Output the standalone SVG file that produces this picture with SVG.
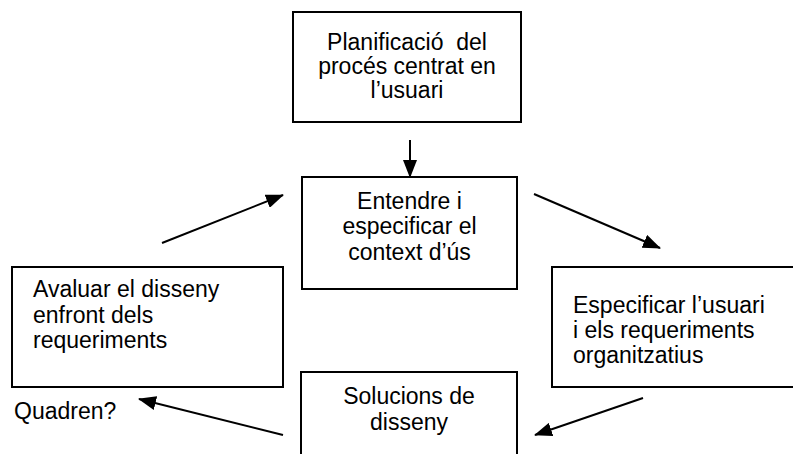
<svg xmlns="http://www.w3.org/2000/svg" width="793" height="454" viewBox="0 0 793 454">
<defs>
<style>
.box{fill:#fff;stroke:#000;stroke-width:2}
.t{font-family:"Liberation Sans",Arial,sans-serif;font-size:23px;fill:#000}
.c{text-anchor:middle}
.conn line{stroke:#000;stroke-width:2}
</style>
<marker id="ah" viewBox="0 0 18 14" refX="17" refY="7" markerWidth="18" markerHeight="14" markerUnits="userSpaceOnUse" orient="auto">
<path d="M0,0 L18,7 L0,14 Z" fill="#000"/>
</marker>
</defs>
<rect width="793" height="454" fill="#fff"/>
<g id="n-planificacio">
<rect class="box" x="293" y="12" width="228" height="110"/>
<text class="t c" x="407" y="50" xml:space="preserve">Planificació  del</text>
<text class="t c" x="407" y="74">procés centrat en</text>
<text class="t c" x="407" y="98">l’usuari</text>
</g>
<g id="n-entendre">
<rect class="box" x="302" y="177" width="215" height="112"/>
<text class="t c" x="409.5" y="209">Entendre i</text>
<text class="t c" x="409.5" y="234">especificar el</text>
<text class="t c" x="409.5" y="260">context d’ús</text>
</g>
<g id="n-avaluar">
<rect class="box" x="12" y="267" width="271" height="120"/>
<text class="t" x="33" y="297">Avaluar el disseny</text>
<text class="t" x="33" y="323">enfront dels</text>
<text class="t" x="33" y="348">requeriments</text>
</g>
<g id="n-especificar">
<rect class="box" x="552" y="267" width="250" height="120"/>
<text class="t" x="573" y="313">Especificar l’usuari</text>
<text class="t" x="573" y="338">i els requeriments</text>
<text class="t" x="573" y="363">organitzatius</text>
</g>
<g id="n-solucions">
<rect class="box" x="301" y="372" width="216" height="100"/>
<text class="t c" x="409" y="404">Solucions de</text>
<text class="t c" x="409" y="430">disseny</text>
</g>
<g id="l-quadren">
<text class="t" x="14" y="419">Quadren?</text>
</g>
<g id="connectors" class="conn">
<line x1="410" y1="140" x2="410" y2="177" marker-end="url(#ah)"/>
<line x1="162" y1="243" x2="283" y2="195" marker-end="url(#ah)"/>
<line x1="534" y1="194" x2="660" y2="248" marker-end="url(#ah)"/>
<line x1="643" y1="398" x2="535" y2="435" marker-end="url(#ah)"/>
<line x1="283" y1="435" x2="139" y2="399" marker-end="url(#ah)"/>
</g>
</svg>
